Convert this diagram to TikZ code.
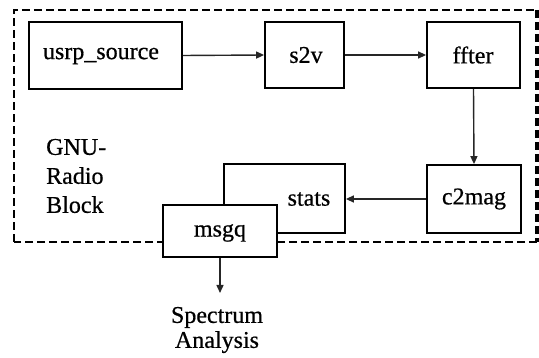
\documentclass[tikz,border=0pt]{standalone}
\usepackage{fontspec}
\setmainfont{Liberation Serif}[FakeBold=0.6]
\usetikzlibrary{arrows.meta}
\begin{document}
\begin{tikzpicture}[x=1pt,y=-1pt,
  blk/.style={draw=black,line width=1.8pt,fill=white,inner sep=0pt},
  lbl/.style={inner sep=0pt,font=\fontsize{24}{29}\selectfont},
  conn/.style={draw=black!85,line width=1.4pt,-{Triangle[length=8pt,width=7pt]}},
  dashthin/.style={draw=black,line width=2pt,dash pattern=on 8pt off 4pt},
  dashthick/.style={draw=black,line width=3.2pt,dash pattern=on 8pt off 4pt}]
\useasboundingbox (0,0) rectangle (539,358);
% dashed GNU-Radio block border
\coordinate (tl) at (14,10);
\coordinate (tr) at (537,10);
\coordinate (br) at (537,242);
\coordinate (bl) at (14,242);
\draw[dashthin] (bl) -- (tl) -- (tr);
\draw[dashthick] (tr) -- (br);
\draw[dashthick,line width=2.6pt] (br) -- (bl);
% blocks
\node[blk,minimum width=153pt,minimum height=67pt] (usrp) at (105.5,55.5) {};
\node[lbl] (usrpt) at (101,56) {usrp\_source};
\node[blk,minimum width=79pt,minimum height=66pt] (s2v) at (304.5,55) {};
\node[lbl] (s2vt) at (306,55) {s2v};
\node[blk,minimum width=93pt,minimum height=66pt] (ffter) at (473.5,55) {};
\node[lbl] (ffterl) at (473,55) {ffter};
\node[blk,minimum width=94pt,minimum height=68pt] (c2mag) at (474,199) {};
\node[lbl] (c2magt) at (474,199) {c2mag};
\node[blk,minimum width=121pt,minimum height=69pt] (stats) at (284.5,198.5) {};
\node[lbl] (statst) at (309,199) {stats};
\node[blk,minimum width=114pt,minimum height=52pt] (msgq) at (220,231) {};
\node[lbl] (msgqt) at (220,233) {msgq};
\node[lbl,align=left,anchor=west] (gnu) at (46,176) {GNU-\\Radio\\Block};
\node[lbl,align=center,font=\fontsize{24}{25}\selectfont] (spec) at (217,330) {Spectrum\\Analysis};
\coordinate (specin) at (220,293);
% connectors
\draw[conn] (usrp.east) -- (s2v.west);
\draw[conn] (s2v.east) -- (ffter.west);
\draw[conn] (ffter.south) -- (c2mag.north);
\draw[conn] (c2mag.west) -- (stats.east |- c2mag.west);
\draw[conn] (msgq.south) -- (specin);
\end{tikzpicture}
\end{document}
